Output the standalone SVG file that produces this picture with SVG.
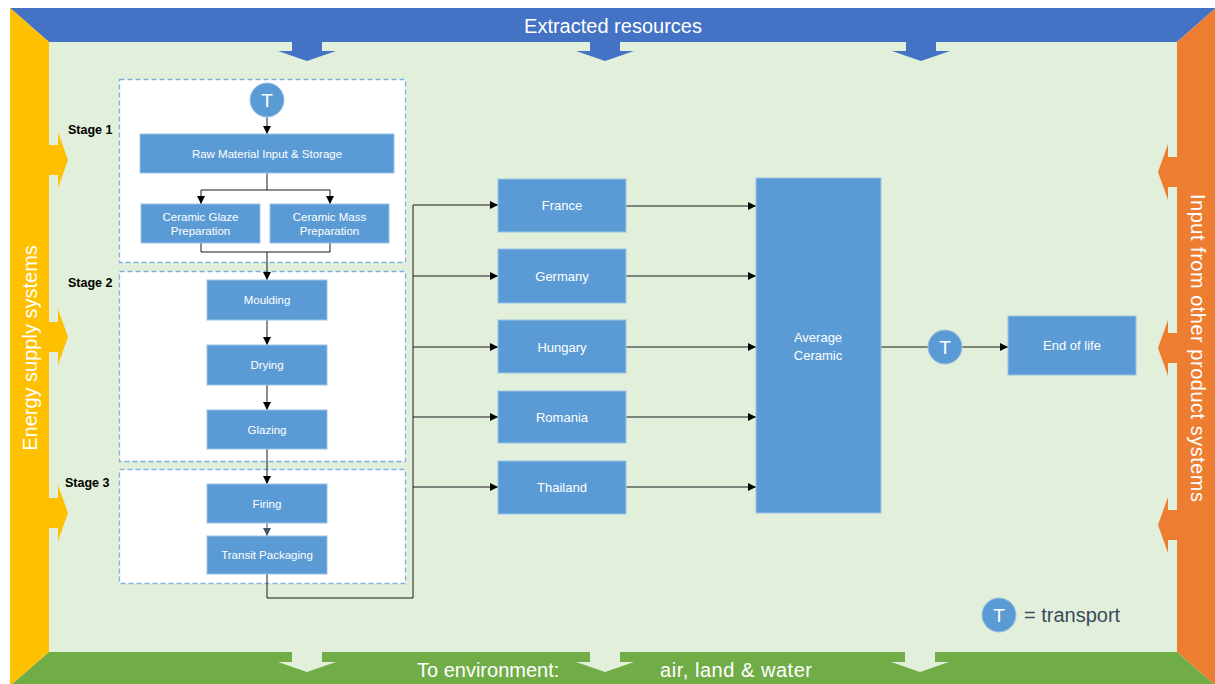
<svg xmlns="http://www.w3.org/2000/svg" width="1215" height="684" viewBox="0 0 1215 684">
<defs>
<style>
.box{fill:#5B9BD5;stroke:#9DC3E6;stroke-width:1}
.stage{fill:#FFFFFF;stroke:#7EB1E3;stroke-width:1.3;stroke-dasharray:5 3}
.bt{font-family:"Liberation Sans",Arial,sans-serif;font-size:11.5px;fill:#FFFFFF;text-anchor:middle}
.ct{font-family:"Liberation Sans",Arial,sans-serif;font-size:13px;fill:#FFFFFF;text-anchor:middle}
.st{font-family:"Liberation Sans",Arial,sans-serif;font-size:12.5px;font-weight:bold;fill:#000000}
.ft{font-family:"Liberation Sans",Arial,sans-serif;font-size:20px;fill:#FFFFFF}
.tt{font-family:"Liberation Sans",Arial,sans-serif;font-size:19px;fill:#FFFFFF;text-anchor:middle}
.con{fill:none;stroke:#1A1A1A;stroke-width:1}
.tc{fill:#5B9BD5;stroke:#9DC3E6;stroke-width:1}
</style>
<marker id="ah" viewBox="0 0 8 8" refX="8" refY="4" markerWidth="8" markerHeight="8" markerUnits="userSpaceOnUse" orient="auto">
<path d="M0,0 L8,4 L0,8 z" fill="#000000"/>
</marker>
<marker id="ahg" viewBox="0 0 8 8" refX="8" refY="4" markerWidth="8" markerHeight="8" markerUnits="userSpaceOnUse" orient="auto">
<path d="M0,0 L8,4 L0,8 z" fill="#44546A"/>
</marker>
<polygon id="arrDown" points="-15,0 15,0 15,10 29,10 0,20 -29,10 -15,10"/>
<polygon id="arrRight" points="0,-15 10,-15 10,-28 20,0 10,28 10,15 0,15"/>
</defs>

<g id="frame">
<rect x="49" y="42" width="1128" height="610" fill="#E2EFDA"/>
<polygon points="10,8 1216,8 1177,42 49,42" fill="#4472C4"/>
<polygon points="10,8 49,42 49,652 10,686" fill="#FFC000"/>
<polygon points="1216,8 1216,686 1177,652 1177,42" fill="#ED7D31"/>
<polygon points="49,652 1177,652 1216,686 10,686" fill="#70AD47"/>
<g fill="#4472C4">
<use href="#arrDown" transform="translate(307,41)"/>
<use href="#arrDown" transform="translate(605,41)"/>
<use href="#arrDown" transform="translate(921,41)"/>
</g>
<g fill="#E2EFDA">
<use href="#arrDown" transform="translate(307,652)"/>
<use href="#arrDown" transform="translate(605,652)"/>
<use href="#arrDown" transform="translate(920,652)"/>
</g>
<g fill="#FFC000">
<use href="#arrRight" transform="translate(48,160)"/>
<use href="#arrRight" transform="translate(48,337)"/>
<use href="#arrRight" transform="translate(48,513)"/>
</g>
<g fill="#ED7D31">
<use href="#arrRight" transform="translate(1178,172) scale(-1,1)"/>
<use href="#arrRight" transform="translate(1178,348) scale(-1,1)"/>
<use href="#arrRight" transform="translate(1178,525) scale(-1,1)"/>
</g>
<text class="ft" x="613" y="33" text-anchor="middle">Extracted resources</text>
<text class="ft" transform="translate(37,348) rotate(-90)" text-anchor="middle">Energy supply systems</text>
<text class="ft" transform="translate(1191,348) rotate(90)" text-anchor="middle" textLength="308" lengthAdjust="spacing">Input from other product systems</text>
<text class="ft" x="417" y="677">To environment:</text>
<text class="ft" x="660" y="677" textLength="152" lengthAdjust="spacing">air, land &amp; water</text>
</g>

<g id="stages">
<rect class="stage" x="119.5" y="79.5" width="286" height="183"/>
<rect class="stage" x="119.5" y="271.5" width="286" height="190"/>
<rect class="stage" x="119.5" y="469.5" width="286" height="114"/>
<text class="st" x="68" y="134">Stage 1</text>
<text class="st" x="68" y="287">Stage 2</text>
<text class="st" x="65" y="487">Stage 3</text>
</g>

<g id="connectors">
<line class="con" x1="267" y1="117" x2="267" y2="134" marker-end="url(#ah)"/>
<path class="con" d="M267,173 V190 M201,190 H330"/>
<line class="con" x1="201" y1="190" x2="201" y2="204" marker-end="url(#ah)"/>
<line class="con" x1="330" y1="190" x2="330" y2="204" marker-end="url(#ah)"/>
<path class="con" d="M201,243 V252 H330 V243"/>
<line class="con" x1="267" y1="252" x2="267" y2="280" marker-end="url(#ah)"/>
<line class="con" x1="267" y1="320" x2="267" y2="345" marker-end="url(#ah)"/>
<line class="con" x1="267" y1="385" x2="267" y2="410" marker-end="url(#ah)"/>
<line class="con" x1="267" y1="449" x2="267" y2="484" marker-end="url(#ah)"/>
<line x1="267" y1="523" x2="267" y2="536" stroke="#44546A" stroke-width="1" marker-end="url(#ahg)"/>
<path class="con" d="M267,574 V598 H413 V205"/>
<line class="con" x1="413" y1="205" x2="498" y2="205" marker-end="url(#ah)"/>
<line class="con" x1="413" y1="276" x2="498" y2="276" marker-end="url(#ah)"/>
<line class="con" x1="413" y1="347" x2="498" y2="347" marker-end="url(#ah)"/>
<line class="con" x1="413" y1="417" x2="498" y2="417" marker-end="url(#ah)"/>
<line class="con" x1="413" y1="487" x2="498" y2="487" marker-end="url(#ah)"/>
<line class="con" x1="626" y1="206" x2="756" y2="206" marker-end="url(#ah)"/>
<line class="con" x1="626" y1="276" x2="756" y2="276" marker-end="url(#ah)"/>
<line class="con" x1="626" y1="347" x2="756" y2="347" marker-end="url(#ah)"/>
<line class="con" x1="626" y1="417" x2="756" y2="417" marker-end="url(#ah)"/>
<line class="con" x1="626" y1="487" x2="756" y2="487" marker-end="url(#ah)"/>
<line class="con" x1="881" y1="347" x2="928" y2="347"/>
<line class="con" x1="962" y1="347" x2="1008" y2="347" marker-end="url(#ah)"/>
</g>

<g id="node-t1">
<circle class="tc" cx="267" cy="100" r="17"/>
<text class="tt" x="267" y="107">T</text>
</g>
<g id="node-raw">
<rect class="box" x="140" y="134" width="254" height="39"/>
<text class="bt" x="267" y="158">Raw Material Input &amp; Storage</text>
</g>
<g id="node-glaze-prep">
<rect class="box" x="141" y="204" width="119" height="39"/>
<text class="bt" x="200.5" y="221">Ceramic Glaze</text>
<text class="bt" x="200.5" y="235">Preparation</text>
</g>
<g id="node-mass-prep">
<rect class="box" x="270" y="204" width="119" height="39"/>
<text class="bt" x="329.5" y="221">Ceramic Mass</text>
<text class="bt" x="329.5" y="235">Preparation</text>
</g>
<g id="node-moulding">
<rect class="box" x="207" y="280" width="120" height="40"/>
<text class="bt" x="267" y="304">Moulding</text>
</g>
<g id="node-drying">
<rect class="box" x="207" y="345" width="120" height="40"/>
<text class="bt" x="267" y="369">Drying</text>
</g>
<g id="node-glazing">
<rect class="box" x="207" y="410" width="120" height="39"/>
<text class="bt" x="267" y="434">Glazing</text>
</g>
<g id="node-firing">
<rect class="box" x="207" y="484" width="120" height="39"/>
<text class="bt" x="267" y="508">Firing</text>
</g>
<g id="node-transit">
<rect class="box" x="207" y="536" width="120" height="38"/>
<text class="bt" x="267" y="559">Transit Packaging</text>
</g>
<g id="node-france">
<rect class="box" x="498" y="179" width="128" height="53"/>
<text class="ct" x="562" y="210">France</text>
</g>
<g id="node-germany">
<rect class="box" x="498" y="249" width="128" height="54"/>
<text class="ct" x="562" y="281">Germany</text>
</g>
<g id="node-hungary">
<rect class="box" x="498" y="320" width="128" height="53"/>
<text class="ct" x="562" y="352">Hungary</text>
</g>
<g id="node-romania">
<rect class="box" x="498" y="391" width="128" height="52"/>
<text class="ct" x="562" y="422">Romania</text>
</g>
<g id="node-thailand">
<rect class="box" x="498" y="461" width="128" height="53"/>
<text class="ct" x="562" y="492">Thailand</text>
</g>
<g id="node-average">
<rect class="box" x="756" y="178" width="125" height="335"/>
<text class="ct" x="818" y="342">Average</text>
<text class="ct" x="818" y="360">Ceramic</text>
</g>
<g id="node-t2">
<circle class="tc" cx="945" cy="347" r="17"/>
<text class="tt" x="945" y="354">T</text>
</g>
<g id="node-eol">
<rect class="box" x="1008" y="316" width="128" height="59"/>
<text class="ct" x="1072" y="350">End of life</text>
</g>
<g id="legend">
<circle class="tc" cx="999" cy="615" r="17"/>
<text class="tt" x="999" y="622">T</text>
<text x="1024" y="622" font-family="'Liberation Sans',Arial,sans-serif" font-size="20" fill="#3B4A5C">= transport</text>
</g>
</svg>
